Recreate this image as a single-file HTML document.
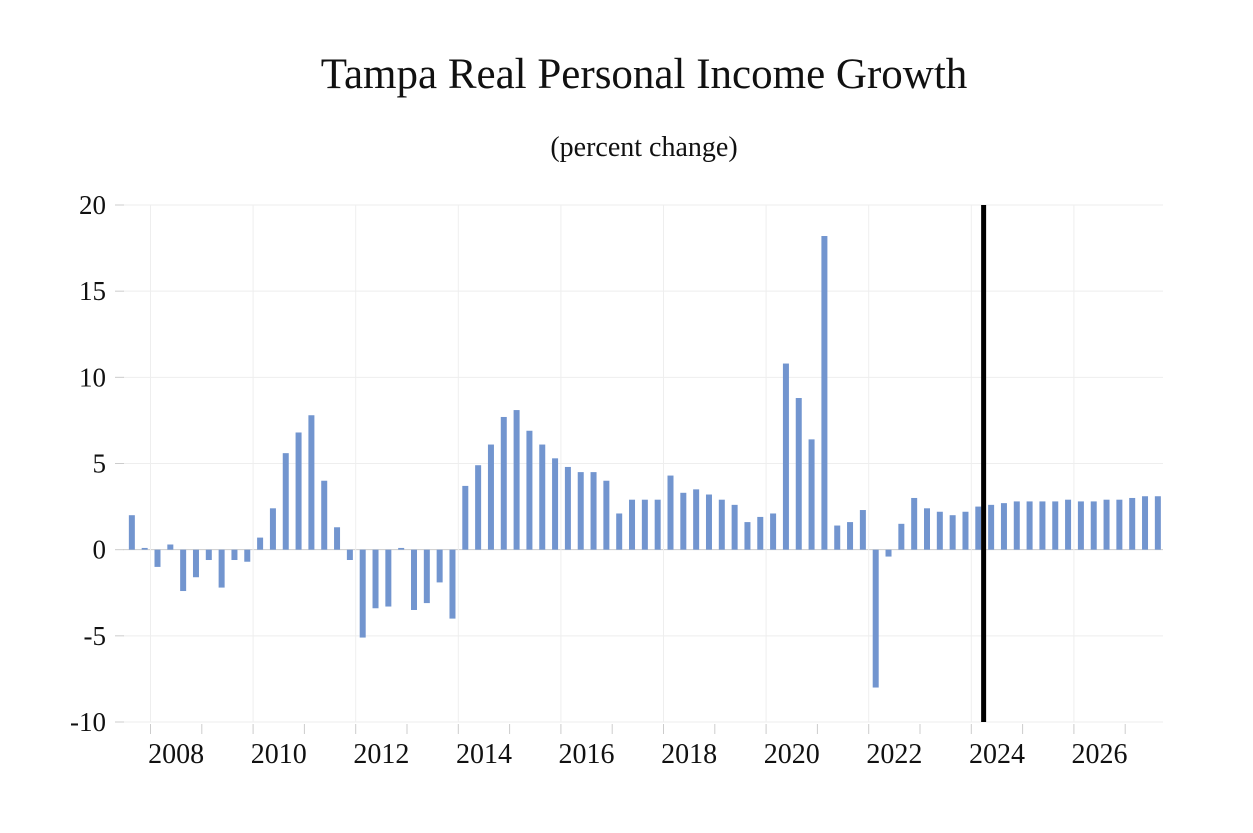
<!DOCTYPE html>
<html><head><meta charset="utf-8"><style>
body{margin:0;background:#fff;}
svg text{font-family:"Liberation Serif",serif;fill:#111;}
</style></head><body>
<svg id="chart" width="1253" height="828" viewBox="0 0 1253 828" xmlns="http://www.w3.org/2000/svg">
<text x="644" y="88" font-size="43" text-anchor="middle">Tampa Real Personal Income Growth</text>
<text x="644" y="156" font-size="28" text-anchor="middle">(percent change)</text>
<g id="grid"></g>
<g id="bars"></g>
<g id="axes"></g>
</svg>
<script>
const startYear = 2007;
const startQuarter = 3;
const values = [2.0,0.1,
-1.0,0.3,-2.4,-1.6,
-0.6,-2.2,-0.6,-0.7,
0.7,2.4,5.6,6.8,
7.8,4.0,1.3,-0.6,
-5.1,-3.4,-3.3,0.1,
-3.5,-3.1,-1.9,-4.0,
3.7,4.9,6.1,7.7,
8.1,6.9,6.1,5.3,
4.8,4.5,4.5,4.0,
2.1,2.9,2.9,2.9,
4.3,3.3,3.5,3.2,
2.9,2.6,1.6,1.9,
2.1,10.8,8.8,6.4,
18.2,1.4,1.6,2.3,
-8.0,-0.4,1.5,3.0,
2.4,2.2,2.0,2.2,
2.5,2.6,2.7,2.8,
2.8,2.8,2.8,2.9,
2.8,2.8,2.9,2.9,
3.0,3.1,3.1];
const yTicks = [-10,-5,0,5,10,15,20];
const xLabels = [2008,2010,2012,2014,2016,2018,2020,2022,2024,2026];
const forecastStart = 2024.25;

const NS="http://www.w3.org/2000/svg";
const plotL=123, plotR=1163, plotT=205, plotB=722;
const yMin=-10, yMax=20;
function y(v){return plotB-(v-yMin)/(yMax-yMin)*(plotB-plotT);}
function x(t){return 150.5+(t-2008)*51.3;}
function mk(tag,attrs,parent){const e=document.createElementNS(NS,tag);for(const k in attrs)e.setAttribute(k,attrs[k]);parent.appendChild(e);return e;}
const grid=document.getElementById('grid'), bars=document.getElementById('bars'), axes=document.getElementById('axes');
yTicks.forEach(v=>{
  const l=mk('line',{x1:plotL,x2:plotR,y1:y(v),y2:y(v),stroke:v===0?'#ccc':'#eee','stroke-width':1},grid);
  
  
  const t=mk('line',{x1:115,x2:124,y1:y(v),y2:y(v),stroke:'#ccc'},axes);
  
  
  const tx=mk('text',{x:106,y:y(v)+9,'font-size':27,'text-anchor':'end'},axes);
  tx.textContent=v;
  
  
});
for(let yr=2008;yr<=2027;yr++){
  if((yr-2008)%2===0){
    const g=mk('line',{x1:x(yr),x2:x(yr),y1:plotT,y2:plotB,stroke:'#eee'},grid);
    
    
  }
  const t=mk('line',{x1:x(yr),x2:x(yr),y1:724,y2:734,stroke:'#ccc'},axes);
  
  
}
xLabels.forEach(yr=>{
  const tx=mk('text',{x:x(yr+0.5),y:763,'font-size':28,'text-anchor':'middle'},axes);
  tx.textContent=yr;
  
  
});
values.forEach((v,i)=>{
  const q=startQuarter-1+i;
  const t=startYear+q/4;
  const cx=x(t)+7;
  const r=mk('rect',{x:cx-3,y:Math.min(y(v),y(0)),width:6,height:Math.abs(y(v)-y(0)),fill:'#7295cf'},bars);
  
  
});
const fl=mk('line',{x1:x(forecastStart)-0.5,x2:x(forecastStart)-0.5,y1:plotT,y2:plotB,stroke:'#000','stroke-width':5},axes);


</script>
</body></html>
